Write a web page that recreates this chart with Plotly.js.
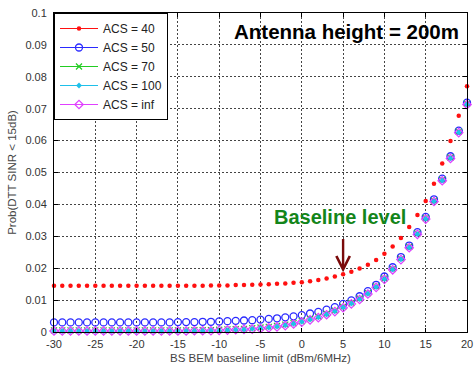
<!DOCTYPE html>
<html>
<head>
<meta charset="utf-8">
<script src="https://cdn.plot.ly/plotly-3.0.1.min.js"></script>
<style>html,body{margin:0;padding:0;background:#fff;}#chart{width:474px;height:365px;}</style>
</head>
<body>
<div id="chart"></div>
<script>
// BS BEM baseline limit (dBm/6MHz)
const xVals = [-30,-29,-28,-27,-26,-25,-24,-23,-22,-21,-20,-19,-18,-17,-16,
  -15,-14,-13,-12,-11,-10,-9,-8,-7,-6,-5,-4,-3,-2,-1,0,1,2,3,4,5,6,7,8,9,10,
  11,12,13,14,15,16,17,18,19,20];

const acs40 = [0.0145,0.0145,0.0145,0.0145,0.0145,0.0145,0.0145,0.0145,0.0145,0.0145,0.0145,0.0145,0.0145,0.0145,0.0145,
  0.0145,0.0145,0.0145,0.0145,0.0146,0.0146,0.0146,0.0147,0.0147,0.0148,0.0149,0.0150,0.0151,0.0152,0.0154,
  0.0156,0.0159,0.0163,0.0168,0.0174,0.0181,0.0189,0.0199,0.0211,0.0226,0.0245,
  0.0268,0.0295,0.0329,0.0367,0.0411,0.0465,0.0528,0.0599,0.0678,0.0770];

const acs50 = [0.0030,0.0030,0.0030,0.0030,0.0030,0.0030,0.0030,0.0030,0.0030,0.0030,0.0030,0.0030,0.0030,0.0030,0.0030,
  0.0031,0.0031,0.0031,0.0032,0.0032,0.0033,0.0034,0.0035,0.0036,0.0037,0.0039,0.0041,0.0043,0.0046,0.0049,
  0.0053,0.0058,0.0063,0.0070,0.0078,0.0088,0.0099,0.0112,0.0128,0.0148,0.0174,
  0.0203,0.0235,0.0271,0.0313,0.0361,0.0416,0.0481,0.0551,0.0631,0.0719];

const acs70 = [0.0005,0.0005,0.0005,0.0005,0.0005,0.0005,0.0005,0.0005,0.0005,0.0005,0.0005,0.0005,0.0005,0.0005,0.0005,
  0.0005,0.0005,0.0006,0.0006,0.0006,0.0007,0.0008,0.0009,0.0010,0.0012,0.0014,0.0016,0.0019,0.0023,0.0028,
  0.0034,0.0041,0.0048,0.0057,0.0067,0.0079,0.0091,0.0105,0.0122,0.0143,0.0168,
  0.0198,0.0230,0.0267,0.0309,0.0357,0.0412,0.0477,0.0547,0.0628,0.0716];

const acs100 = [0.0003,0.0003,0.0003,0.0003,0.0003,0.0003,0.0003,0.0003,0.0003,0.0003,0.0003,0.0003,0.0003,0.0003,0.0003,
  0.0003,0.0004,0.0004,0.0004,0.0005,0.0005,0.0006,0.0007,0.0008,0.0010,0.0012,0.0014,0.0017,0.0021,0.0026,
  0.0032,0.0039,0.0046,0.0055,0.0065,0.0077,0.0089,0.0103,0.0120,0.0141,0.0166,
  0.0196,0.0228,0.0265,0.0307,0.0355,0.0410,0.0475,0.0545,0.0626,0.0714];

const acsInf = [0.0003,0.0003,0.0003,0.0003,0.0003,0.0003,0.0003,0.0003,0.0003,0.0003,0.0003,0.0003,0.0003,0.0003,0.0003,
  0.0003,0.0003,0.0004,0.0004,0.0004,0.0005,0.0006,0.0007,0.0008,0.0009,0.0011,0.0013,0.0016,0.0020,0.0025,
  0.0031,0.0038,0.0045,0.0054,0.0064,0.0076,0.0088,0.0102,0.0119,0.0140,0.0165,
  0.0195,0.0227,0.0264,0.0306,0.0354,0.0409,0.0474,0.0544,0.0625,0.0713];

const seriesNames = ['ACS = 40','ACS = 50','ACS = 70','ACS = 100','ACS = inf'];
const xTicks = [-30,-25,-20,-15,-10,-5,0,5,10,15,20];
const yTicks = [0,0.01,0.02,0.03,0.04,0.05,0.06,0.07,0.08,0.09,0.1];

const styles = [
  {symbol:'circle', size:4.5, color:'#ff1010', line:{width:0}},
  {symbol:'circle-open', size:7, color:'#2a2aff', line:{width:1.3}},
  {symbol:'x-thin-open', size:6, color:'#22cc22', line:{width:1.2}},
  {symbol:'diamond', size:4.5, color:'#1ec0ea', line:{width:0}},
  {symbol:'diamond-open', size:6.5, color:'#e040ff', line:{width:1.2}}
];
const lineColors = ['#ff1010','#2a2aff','#22cc22','#1ec0ea','#e040ff'];
const allY = [acs40, acs50, acs70, acs100, acsInf];

const traces = [];
allY.forEach((ys, i) => {
  traces.push({
    x: xVals, y: ys, type: 'scatter', mode: 'markers',
    marker: styles[i], showlegend: false, cliponaxis: false, hoverinfo: 'skip'
  });
});
// legend entries (line + marker), no data drawn
allY.forEach((ys, i) => {
  traces.push({
    x: [null], y: [null], type: 'scatter', mode: 'lines+markers', name: seriesNames[i],
    line: {color: lineColors[i], width: 1}, marker: styles[i], showlegend: true
  });
});

const axisFont = {family: 'Liberation Sans, Arial, sans-serif', size: 11, color: '#333'};

const layout = {
  width: 474, height: 365,
  margin: {l: 54, r: 7, t: 13, b: 33},
  paper_bgcolor: '#fff', plot_bgcolor: '#fff',
  font: {family: 'Liberation Sans, Arial, sans-serif'},
  xaxis: {
    range: [-30, 20], tickvals: xTicks, ticktext: xTicks.map(String),
    ticks: 'inside', ticklen: 4, tickcolor: '#000', mirror: 'allticks',
    showline: true, linecolor: '#000', linewidth: 1,
    showgrid: true, gridcolor: '#444', griddash: '2px,2px', gridwidth: 1, zeroline: false,
    tickfont: axisFont, ticklabelstandoff: 2, ticklabeloverflow: 'allow',
    title: {text: 'BS BEM baseline limit (dBm/6MHz)', font: {family: 'Liberation Sans, Arial, sans-serif', size: 11.5, color: '#444'}, standoff: 4}
  },
  yaxis: {
    range: [0, 0.1], tickvals: yTicks, ticktext: yTicks.map(String),
    ticks: 'inside', ticklen: 4, tickcolor: '#000', mirror: 'allticks',
    showline: true, linecolor: '#000', linewidth: 1,
    showgrid: true, gridcolor: '#444', griddash: '2px,2px', gridwidth: 1, zeroline: false,
    tickfont: axisFont, ticklabelstandoff: 4, ticklabeloverflow: 'allow',
    title: {text: 'Prob(DTT SINR &lt; 15dB)', font: {family: 'Liberation Sans, Arial, sans-serif', size: 11.5, color: '#444'}, standoff: 6}
  },
  legend: {
    x: 0, y: 1, xanchor: 'left', yanchor: 'top',
    bgcolor: '#fff', bordercolor: '#000', borderwidth: 1,
    font: {family: 'Liberation Sans, Arial, sans-serif', size: 12, color: '#222'},
    tracegroupgap: 0, itemwidth: 38
  },
  annotations: [
    {x: 5.45, y: 0.0943, xref: 'x', yref: 'y', text: 'Antenna height = 200m', showarrow: false,
     font: {family: 'Liberation Sans, Arial, sans-serif', size: 20.5, color: '#000', weight: 'bold'}},
    {x: 4.6, y: 0.0360, xref: 'x', yref: 'y', text: 'Baseline level', showarrow: false,
     font: {family: 'Liberation Sans, Arial, sans-serif', size: 20, color: '#13851a', weight: 'bold'}},
    {x: 5, y: 0.0187, xref: 'x', yref: 'y', ax: 5, ay: 0.0296, axref: 'x', ayref: 'y',
     text: '', showarrow: true, arrowhead: 5, arrowsize: 1.1, arrowwidth: 2.4, arrowcolor: '#7a0a0a'}
  ]
};

Plotly.newPlot('chart', traces, layout, {staticPlot: true, displayModeBar: false});
</script>
</body>
</html>
